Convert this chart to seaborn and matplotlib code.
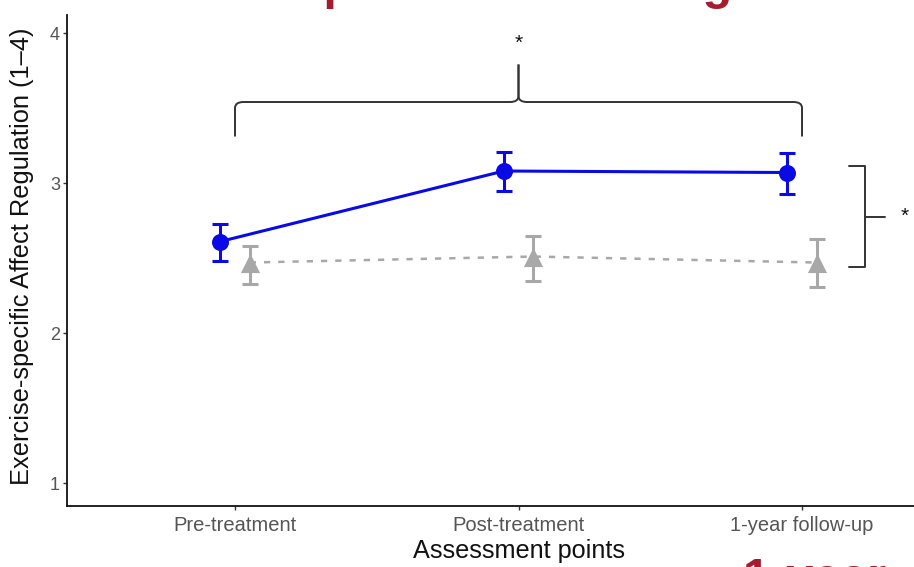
import matplotlib
matplotlib.use("Agg")
import matplotlib.pyplot as plt
import numpy as np
import pandas as pd
import seaborn as sns
from matplotlib.path import Path
from matplotlib.patches import PathPatch

# ---------------- data ----------------
timepoints = ["Pre-treatment", "Post-treatment", "1-year follow-up"]
groups = ["Intervention", "Control"]
intervention_mean = [2.61, 3.08, 3.07]
intervention_low = [2.48, 2.95, 2.93]
intervention_high = [2.73, 3.21, 3.20]
control_mean = [2.47, 2.51, 2.47]
control_low = [2.33, 2.35, 2.31]
control_high = [2.58, 2.65, 2.63]
y_ticks = [1, 2, 3, 4]
y_label = "Exercise-specific Affect Regulation (1\u20134)"
x_label = "Assessment points"
title_text = "Exercise-specific Affect Regulation"
footer_text = "1-year"
sig_mark = "*"

# ---------------- style ----------------
sns.set_theme(style="white")
plt.rcParams["font.family"] = ["Liberation Sans", "DejaVu Sans"]

blue = "#0A0AE6"
grey = "#A8A8A8"
crimson = "#A51C30"
dodge = 0.052

fig = plt.figure(figsize=(9.14, 5.67), dpi=100)
ax = fig.add_axes([67 / 914, 61 / 567, 847 / 914, 491 / 567])

idx = np.arange(len(timepoints))
df = pd.DataFrame({
    "x": np.concatenate([idx - dodge, idx + dodge]),
    "mean": intervention_mean + control_mean,
    "low": intervention_low + control_low,
    "high": intervention_high + control_high,
    "group": [groups[0]] * 3 + [groups[1]] * 3,
})

# control (grey, dashed, triangles)
d_c = df[df.group == groups[1]]
ax.errorbar(d_c.x, d_c["mean"], yerr=[d_c["mean"] - d_c.low, d_c.high - d_c["mean"]],
            fmt="none", ecolor=grey, elinewidth=2.2, capsize=5.5, capthick=2.2, zorder=2)
sns.lineplot(data=d_c, x="x", y="mean", ax=ax, color=grey, lw=1.8,
             linestyle=(0, (2.5, 3.2)), zorder=2, legend=False)
sns.scatterplot(data=d_c, x="x", y="mean", ax=ax, color=grey, marker="^", s=190,
                edgecolor=grey, linewidth=0, zorder=3, legend=False)

# intervention (blue, solid, circles)
d_i = df[df.group == groups[0]]
ax.errorbar(d_i.x, d_i["mean"], yerr=[d_i["mean"] - d_i.low, d_i.high - d_i["mean"]],
            fmt="none", ecolor=blue, elinewidth=2.2, capsize=5.5, capthick=2.2, zorder=4)
sns.lineplot(data=d_i, x="x", y="mean", ax=ax, color=blue, lw=2.2, zorder=4, legend=False)
sns.scatterplot(data=d_i, x="x", y="mean", ax=ax, color=blue, marker="o", s=150,
                edgecolor=blue, linewidth=0, zorder=5, legend=False)

# ---------------- axes ----------------
ax.set_xlim(-0.5926, 2.395)
ax.set_ylim(0.847, 4.12)
ax.set_xticks(idx)
ax.set_xticklabels(timepoints)
ax.set_yticks(y_ticks)
ax.set_yticklabels([str(t) for t in y_ticks])
ax.tick_params(axis="both", which="both", length=3, width=1, color="#333333",
               labelcolor="#555555", direction="out", bottom=True, left=True)
ax.tick_params(axis="x", labelsize=14.5, pad=4.5)
ax.tick_params(axis="y", labelsize=13, pad=2)
for s in ["top", "right"]:
    ax.spines[s].set_visible(False)
for s in ["left", "bottom"]:
    ax.spines[s].set_color("#111111")
    ax.spines[s].set_linewidth(1.3)
ax.set_xlabel(x_label, fontsize=18.2, color="#111111")
ax.xaxis.set_label_coords((519 - 67) / 847, -(539 - 506) / 491)
ax.set_ylabel(y_label, fontsize=18.3, color="#111111")
ax.yaxis.set_label_coords((34 - 67) / 847, (506 - 256) / 491)
ax.grid(False)

# ---------------- significance brackets ----------------
bc = "#333333"
# top curly brace spanning all assessment points
y_h, y_end, y_peak = 3.54, 3.31, 3.79
x0, x1, xm = idx[0], idx[-1], idx[1]
cx, cy = 0.03, 0.04
verts = [(x0, y_end), (x0, y_h - cy), (x0, y_h), (x0 + cx, y_h),
         (xm - cx, y_h), (xm, y_h), (xm, y_h + cy), (xm, y_peak)]
codes = [Path.MOVETO, Path.LINETO, Path.CURVE3, Path.CURVE3,
         Path.LINETO, Path.CURVE3, Path.CURVE3, Path.LINETO]
ax.add_patch(PathPatch(Path(verts, codes), fill=False, ec=bc, lw=1.4, zorder=6))
verts2 = [(xm, y_peak), (xm, y_h + cy), (xm, y_h), (xm + cx, y_h),
          (x1 - cx, y_h), (x1, y_h), (x1, y_h - cy), (x1, y_end)]
codes2 = [Path.MOVETO, Path.LINETO, Path.CURVE3, Path.CURVE3,
          Path.LINETO, Path.CURVE3, Path.CURVE3, Path.LINETO]
ax.add_patch(PathPatch(Path(verts2, codes2), fill=False, ec=bc, lw=1.4, zorder=6))
ax.text(xm, 3.93, sig_mark, ha="center", va="center", fontsize=15, color="#111111")

# right bracket between groups
y_top, y_bot = 3.113, 2.44
y_mid = (y_top + y_bot) / 2
bx0, bx1, bx2 = 2.166, 2.222, 2.293
ax.plot([bx0, bx1, bx1, bx0], [y_top, y_top, y_bot, y_bot], color=bc, lw=1.4,
        solid_joinstyle="round", clip_on=False, zorder=6)
ax.plot([bx1, bx2], [y_mid, y_mid], color=bc, lw=1.4, clip_on=False, zorder=6)
ax.text(2.363, y_mid, sig_mark, ha="center", va="center", fontsize=15, color="#111111")

# ---------------- cropped slide texts ----------------
fig.text(80 / 914, 1 + 1 / 567, title_text, fontsize=35, fontweight="bold",
         color=crimson, ha="left", va="baseline")
fig.text(743 / 914, (567 - 557) / 567, footer_text, fontsize=35, fontweight="bold",
         color=crimson, ha="left", va="top")

fig.savefig("out.png", dpi=100)
